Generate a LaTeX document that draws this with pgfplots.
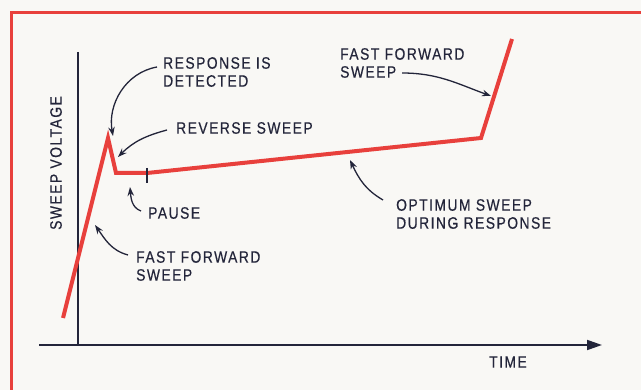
\documentclass[border=0pt]{standalone}
\usepackage{fontspec}
\setmainfont{Liberation Sans}[FakeStretch=0.84, LetterSpace=9, FakeBold=0.4]
\usepackage{pgfplots}
\pgfplotsset{compat=1.18}
\usetikzlibrary{arrows.meta}
\definecolor{bgc}{RGB}{249,248,245}
\definecolor{sweepred}{RGB}{232,64,60}
\definecolor{ink}{RGB}{35,37,58}

\begin{document}
\begin{tikzpicture}
\useasboundingbox (0,0) rectangle (641bp,390bp);
\clip (0,0) rectangle (641bp,390bp);
\fill[bgc] (0,0) rectangle (641bp,390bp);
\begin{axis}[
  scale only axis,
  width=641bp, height=390bp,
  xmin=0, xmax=641, ymin=0, ymax=390,
  hide axis, clip=false,
]
% frame
\draw[sweepred, line width=3bp] (11.5,-10) -- (11.5,377.5) -- (660,377.5);
% axes
\addplot[ink, line width=1.8bp] coordinates {(78,338) (78,45)};
\addplot[ink, line width=1.8bp, -{Triangle[length=15bp,width=10bp]}] coordinates {(39,45) (602,45)};
% sweep voltage
\addplot[sweepred, line width=4bp, line join=miter] coordinates {
  (63,72) (108,252) (116,217) (147,217) (481,252) (512,351)};
% pause marker
\addplot[ink, line width=1.2bp] coordinates {(147,222) (147,207)};

\tikzset{lab/.style={anchor=west, align=left, inner sep=0pt, text=ink,
  font=\fontsize{16.5bp}{18bp}\selectfont},
  ann/.style={ink, line width=1.3bp, -{Stealth[length=9bp,width=6.5bp]}}}

\node[lab] at (163,318) {RESPONSE IS\\DETECTED};
\node[lab] at (176,262) {REVERSE SWEEP};
\node[lab] at (148,177) {PAUSE};
\node[lab] at (136,124) {FAST FORWARD\\SWEEP};
\node[lab] at (340,327) {FAST FORWARD\\SWEEP};
\node[lab] at (396,176) {OPTIMUM SWEEP\\DURING RESPONSE};
\node[lab, anchor=center] at (508,28) {TIME};
\node[lab, anchor=center, rotate=90] at (56,227) {SWEEP VOLTAGE};

\draw[ann] (157,323) to[out=190, in=100] (113,254);
\draw[ann] (167,260) to[out=195, in=45] (118,233);
\draw[ann] (141,179) to[out=160, in=-85] (130,203);
\draw[ann] (128,135) to[out=165, in=-55] (95,165);
\draw[ann] (402,317) to[out=0, in=160] (491,294);
\draw[ann] (383,190) to[out=150, in=-65] (350,230);
\end{axis}
\end{tikzpicture}
\end{document}
